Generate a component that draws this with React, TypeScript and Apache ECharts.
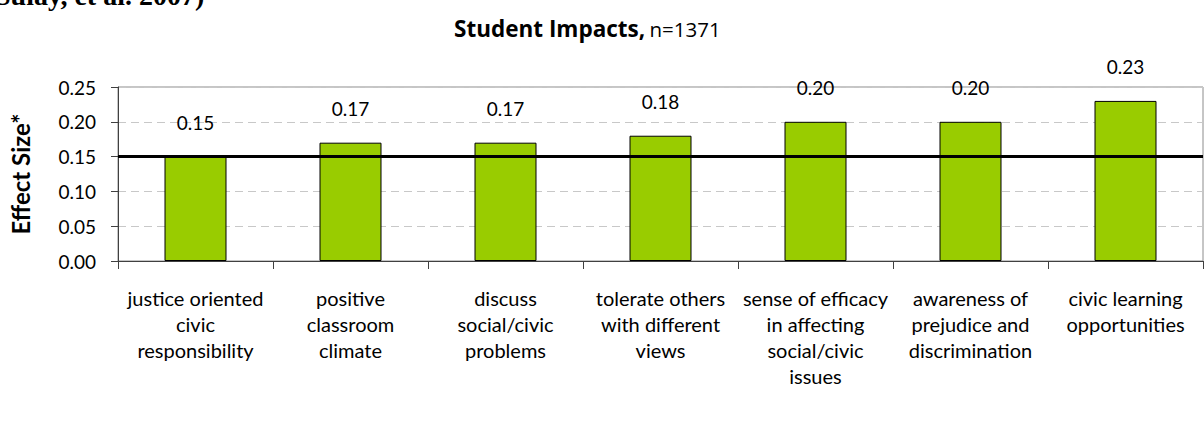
import React, { useEffect, useRef } from "react";
import * as echarts from "echarts";

const categories = [
  "justice oriented\ncivic\nresponsibility",
  "positive\nclassroom\nclimate",
  "discuss\nsocial/civic\nproblems",
  "tolerate others\nwith different\nviews",
  "sense of efficacy\nin affecting\nsocial/civic\nissues",
  "awareness of\nprejudice and\ndiscrimination",
  "civic learning\nopportunities",
];
const effectSizes = [0.15, 0.17, 0.17, 0.18, 0.2, 0.2, 0.23];
const referenceLine = 0.15;
const yTicks = { min: 0, max: 0.25, interval: 0.05 };

const FONT = "Lato, 'Open Sans', sans-serif";

export default function App() {
  const ref = useRef<HTMLDivElement>(null);
  useEffect(() => {
    document.body.style.margin = "0";
    if (!ref.current) return;
    const chart = echarts.init(ref.current, undefined, { renderer: "svg" });
    chart.setOption({
      animation: false,
      backgroundColor: "#ffffff",
      textStyle: { fontFamily: FONT },
      title: {
        left: 449,
        top: 12,
        text: "{b|Student Impacts,} {n|n=1371}",
        textStyle: {
          rich: {
            b: { fontFamily: "'Open Sans', sans-serif", fontWeight: "bold", fontSize: 22.5, color: "#000" },
            n: { fontFamily: "'Open Sans', sans-serif", fontWeight: "normal", fontSize: 20.5, color: "#000" },
          },
        },
      },
      graphic: [
        {
          type: "text",
          left: -5,
          top: -19,
          style: {
            text: "Sulay, et al. 2007)",
            font: "bold 28px 'Liberation Serif', serif",
            fill: "#000",
          },
        },
      ],
      grid: {
        left: 118,
        right: 1,
        top: 87,
        bottom: 170,
        show: true,
        borderColor: "#8c8c8c",
        borderWidth: 1,
        containLabel: false,
      },
      xAxis: {
        type: "category",
        data: categories,
        axisLine: { lineStyle: { color: "#404040", width: 1 } },
        axisTick: { show: true, length: 8, lineStyle: { color: "#404040" } },
        axisLabel: {
          interval: 0,
          margin: 24,
          fontSize: 20,
          lineHeight: 26,
          color: "#000",
          fontFamily: FONT,
        },
      },
      yAxis: {
        type: "value",
        min: yTicks.min,
        max: yTicks.max,
        interval: yTicks.interval,
        name: "Effect Size*",
        nameLocation: "middle",
        nameGap: 86,
        nameTextStyle: { fontSize: 24, fontWeight: "bold", color: "#000", fontFamily: FONT },
        axisLine: { show: true, lineStyle: { color: "#404040", width: 1 } },
        axisTick: { show: true, length: 7, lineStyle: { color: "#404040" } },
        axisLabel: {
          fontSize: 19,
          color: "#000",
          margin: 22,
          fontFamily: FONT,
          formatter: (v: number) => v.toFixed(2),
        },
        splitLine: { show: true, lineStyle: { color: "#c8c8c8", type: [8, 5], width: 1 } },
      },
      series: [
        {
          type: "bar",
          data: effectSizes,
          barWidth: "40%",
          itemStyle: { color: "#99cc00", borderColor: "#000", borderWidth: 1 },
          label: {
            show: true,
            position: "top",
            distance: 25,
            fontSize: 19,
            color: "#000",
            fontFamily: FONT,
            formatter: (p: any) => Number(p.value).toFixed(2),
          },
          markLine: {
            silent: true,
            symbol: "none",
            label: { show: false },
            lineStyle: { color: "#000", width: 3, type: "solid" },
            data: [{ yAxis: referenceLine }],
          },
        },
      ],
    });
    return () => chart.dispose();
  }, []);
  return <div ref={ref} style={{ width: 1204, height: 431 }} />;
}
